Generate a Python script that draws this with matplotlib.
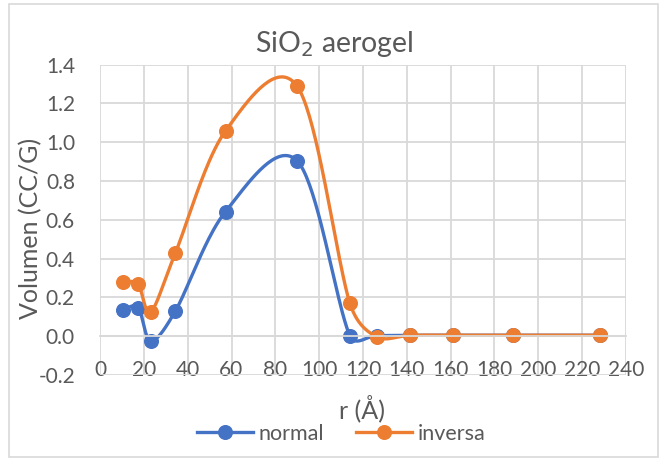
import numpy as np
import matplotlib
matplotlib.use("Agg")
import matplotlib.pyplot as plt
from matplotlib.patches import Rectangle
from matplotlib.lines import Line2D

plt.rcParams['font.family'] = ['Lato', 'DejaVu Sans']

# Pore radius (Å) and pore volume (cc/g)
radius = [10.6, 17.4, 23.2, 34.4, 57.3, 89.9, 114.0, 126.2, 141.4, 161.0, 188.3, 228.0]
vol_normal = [0.134, 0.148, -0.024, 0.130, 0.643, 0.905, 0.003, 0.003, 0.005, 0.005, 0.005, 0.005]
vol_inversa = [0.281, 0.267, 0.127, 0.430, 1.059, 1.290, 0.171, -0.003, 0.005, 0.005, 0.005, 0.005]
series_names = ["normal", "inversa"]
series_colors = ["#4472C4", "#ED7D31"]

x_ticks = list(range(0, 241, 20))
y_ticks = [-0.2, 0.0, 0.2, 0.4, 0.6, 0.8, 1.0, 1.2, 1.4]

W, H = 659, 459
fig = plt.figure(figsize=(W / 100, H / 100), dpi=100)
ax = fig.add_axes([100 / W, 1 - 375 / H, 526 / W, (375 - 64.7) / H])

ax.set_xlim(0, 240)
ax.set_ylim(-0.2, 1.4)
ax.set_xticks(x_ticks)
ax.set_yticks(y_ticks)
ax.set_yticklabels([f"{v:.1f}" for v in y_ticks])
ax.grid(True, color="#D9D9D9", lw=1.3)
ax.set_axisbelow(True)
for s in ["top", "right", "left"]:
    ax.spines[s].set_visible(False)
ax.spines["bottom"].set_position(("data", 0))
ax.spines["bottom"].set_color("#D9D9D9")
ax.spines["bottom"].set_linewidth(1.3)
ax.tick_params(axis="both", length=0, labelsize=15, labelcolor="#595959")
ax.tick_params(axis="x", pad=17)
ax.tick_params(axis="y", pad=18)


def smooth_path(xs, ys):
    """Bezier smoothing in display space with tangent lengths limited per segment."""
    pts = ax.transData.transform(np.column_stack([xs, ys]))
    n = len(pts)
    out = [pts[0]]
    t = np.linspace(0, 1, 40)[1:]
    for i in range(n - 1):
        p0 = pts[i - 1] if i > 0 else pts[i]
        p1 = pts[i]
        p2 = pts[i + 1]
        p3 = pts[i + 2] if i + 2 < n else pts[i + 1]
        d12 = np.hypot(*(p2 - p1))
        d02 = np.hypot(*(p2 - p0))
        d13 = np.hypot(*(p3 - p1))
        f1 = 1 / 6 if d02 / 6 <= d12 / 2 else d12 / (2 * d02)
        f2 = 1 / 6 if d13 / 6 <= d12 / 2 else d12 / (2 * d13)
        c1 = p1 + f1 * (p2 - p0)
        c2 = p2 - f2 * (p3 - p1)
        seg = ((1 - t) ** 3)[:, None] * p1 + (3 * (1 - t) ** 2 * t)[:, None] * c1 \
            + (3 * (1 - t) * t ** 2)[:, None] * c2 + (t ** 3)[:, None] * p2
        out.extend(seg)
    out = np.array(out)
    data = ax.transData.inverted().transform(out)
    return data[:, 0], data[:, 1]


for vals, name, col in zip([vol_normal, vol_inversa], series_names, series_colors):
    sx, sy = smooth_path(radius, vals)
    ax.plot(sx, sy, color=col, lw=2.4, solid_capstyle="round", clip_on=False)
    ax.plot(radius, vals, "o", color=col, ms=9.8, clip_on=False)

fig.text(334 / W, 1 - 44 / H, "SiO$_2$ aerogel", ha="center", va="center",
         fontsize=20.5, color="#595959")
fig.text(31 / W, 1 - 228 / H, "Volumen (CC/G)", rotation=90, ha="center",
         va="center", fontsize=18, color="#595959")
fig.text(362 / W, 1 - 408 / H, "r (Å)", ha="center", va="center",
         fontsize=18, color="#595959")

handles = [Line2D([], [], color=c, lw=2.4, marker="o", ms=9.8) for c in series_colors]
fig.legend(handles, series_names, loc="center", bbox_to_anchor=(341 / W, 1 - 434 / H),
           ncol=2, frameon=False, fontsize=15.5, labelcolor="#595959",
           handlelength=2.6, handletextpad=0.25, columnspacing=1.5)

fig.patches.append(Rectangle((9 / W, 1 - 457 / H), 649 / W, 453 / H,
                             transform=fig.transFigure, fill=False,
                             edgecolor="#D9D9D9", lw=1.2))

fig.savefig("out.png", dpi=100, facecolor="white")
